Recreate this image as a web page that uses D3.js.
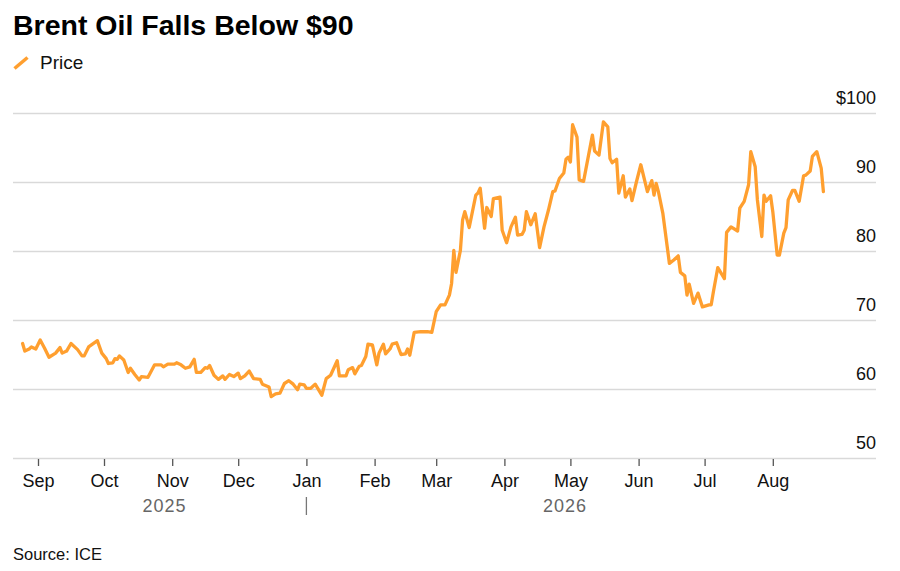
<!DOCTYPE html>
<html>
<head>
<meta charset="utf-8">
<script src="https://cdn.jsdelivr.net/npm/d3@7"></script>
<style>
  html, body { margin: 0; padding: 0; background: #fff; }
  svg { display: block; font-family: "Liberation Sans", Arial, sans-serif; }
</style>
</head>
<body>
<svg id="chart" width="900" height="571"></svg>
<script>
// ---- Data ----
const title = "Brent Oil Falls Below $90";
const seriesName = "Price";
const source = "Source: ICE";

const dates = [
  "2025-08-25","2025-08-26","2025-08-28","2025-08-29","2025-08-31","2025-09-02","2025-09-04","2025-09-06","2025-09-09","2025-09-11",
  "2025-09-12","2025-09-14","2025-09-16","2025-09-19","2025-09-21","2025-09-22","2025-09-24","2025-09-28","2025-09-30","2025-10-02",
  "2025-10-03","2025-10-05","2025-10-06","2025-10-07","2025-10-08","2025-10-10","2025-10-12","2025-10-13","2025-10-15","2025-10-17",
  "2025-10-18","2025-10-21","2025-10-24","2025-10-27","2025-10-28","2025-10-30","2025-11-02","2025-11-03","2025-11-05","2025-11-07",
  "2025-11-09","2025-11-11","2025-11-12","2025-11-14","2025-11-16","2025-11-17","2025-11-18","2025-11-20","2025-11-22","2025-11-24",
  "2025-11-25","2025-11-27","2025-11-29","2025-12-01","2025-12-02","2025-12-04","2025-12-06","2025-12-08","2025-12-11","2025-12-12",
  "2025-12-15","2025-12-16","2025-12-18","2025-12-20","2025-12-22","2025-12-24","2025-12-26","2025-12-28","2025-12-29","2025-12-31",
  "2026-01-01","2026-01-03","2026-01-05","2026-01-08","2026-01-10","2026-01-12","2026-01-15","2026-01-16","2026-01-19","2026-01-20",
  "2026-01-22","2026-01-23","2026-01-25","2026-01-26","2026-01-28","2026-01-29","2026-01-31","2026-02-02","2026-02-03","2026-02-05",
  "2026-02-06","2026-02-08","2026-02-09","2026-02-11","2026-02-13","2026-02-15","2026-02-16","2026-02-17","2026-02-19","2026-02-22",
  "2026-02-25","2026-02-27","2026-03-01","2026-03-03","2026-03-05","2026-03-07","2026-03-08","2026-03-09","2026-03-10","2026-03-12",
  "2026-03-13","2026-03-14","2026-03-16","2026-03-19","2026-03-20","2026-03-21","2026-03-23","2026-03-24","2026-03-26","2026-03-27",
  "2026-03-30","2026-03-31","2026-04-02","2026-04-04","2026-04-06","2026-04-07","2026-04-09","2026-04-10","2026-04-11","2026-04-13",
  "2026-04-15","2026-04-17","2026-04-19","2026-04-21","2026-04-23","2026-04-24","2026-04-26","2026-04-28","2026-04-29","2026-04-30",
  "2026-05-01","2026-05-02","2026-05-04","2026-05-05","2026-05-07","2026-05-08","2026-05-11","2026-05-12","2026-05-14","2026-05-16",
  "2026-05-18","2026-05-19","2026-05-20","2026-05-22","2026-05-23","2026-05-25","2026-05-26","2026-05-28","2026-05-29","2026-05-31",
  "2026-06-02","2026-06-05","2026-06-07","2026-06-08","2026-06-09","2026-06-10","2026-06-12","2026-06-15","2026-06-17","2026-06-19",
  "2026-06-20","2026-06-22","2026-06-23","2026-06-24","2026-06-26","2026-06-28","2026-06-30","2026-07-03","2026-07-04","2026-07-05",
  "2026-07-07","2026-07-10","2026-07-11","2026-07-13","2026-07-16","2026-07-17","2026-07-19","2026-07-21","2026-07-22","2026-07-24",
  "2026-07-25","2026-07-27","2026-07-28","2026-07-29","2026-07-31","2026-08-01","2026-08-03","2026-08-04","2026-08-06","2026-08-07",
  "2026-08-08","2026-08-10","2026-08-11","2026-08-13","2026-08-15","2026-08-16","2026-08-18","2026-08-19","2026-08-21","2026-08-23",
  "2026-08-24"
];

const prices = [
  66.6,65.5,65.8,66.1,65.8,67.1,65.9,64.6,65.2,66.0,
  65.2,65.5,66.6,65.7,64.8,64.8,66.1,67.0,65.2,64.4,
  63.7,63.8,64.4,64.3,64.8,64.2,62.4,63.0,62.1,61.3,
  61.8,61.7,63.5,63.5,63.2,63.6,63.6,63.8,63.5,63.0,
  63.2,64.3,62.4,62.4,63.1,63.0,63.4,62.0,61.4,61.9,
  61.4,62.1,61.8,62.3,61.5,61.9,62.6,61.5,61.4,60.7,
  60.3,58.9,59.3,59.4,60.8,61.2,60.7,59.9,60.7,60.6,
  60.1,60.1,60.7,59.1,61.5,62.0,64.1,61.9,61.9,62.8,
  63.1,62.2,63.3,63.4,64.7,66.5,66.4,63.5,65.2,66.5,
  65.1,65.8,66.5,66.7,65.0,65.1,65.8,64.9,68.2,68.3,
  68.3,68.2,71.2,72.2,72.2,73.6,75.3,80.1,76.9,80.1,
  84.5,85.7,83.4,88.1,88.4,89.1,83.3,86.3,85.0,87.6,
  87.8,83.0,81.2,83.5,84.9,82.3,82.4,83.0,85.7,83.8,
  85.4,80.5,83.5,85.9,88.6,88.7,90.5,91.3,93.3,93.6,
  92.9,98.3,96.5,90.3,90.1,91.8,96.8,94.5,93.9,98.7,
  98.0,93.4,92.8,93.3,88.4,90.9,87.8,89.0,87.3,90.0,
  92.5,88.6,90.2,88.1,89.8,88.6,85.5,78.2,78.7,79.3,
  76.9,76.4,73.6,75.2,72.4,73.9,71.9,72.2,72.2,74.1,
  77.6,76.0,82.7,83.5,82.9,86.2,87.2,89.6,94.4,92.2,
  87.4,82.1,88.1,87.2,88.0,85.7,79.4,79.4,82.6,83.4,
  87.4,88.8,88.8,87.2,90.9,91.0,91.6,93.7,94.4,92.0,
  88.6
];

const yTicks = [50, 60, 70, 80, 90, 100];
const monthTicks = ["2025-09-01","2025-10-01","2025-11-01","2025-12-01","2026-01-01","2026-02-01",
                    "2026-03-01","2026-04-01","2026-05-01","2026-06-01","2026-07-01","2026-08-01"];
const years = [
  { label: "2025", from: "2025-08-25", to: "2026-01-01" },
  { label: "2026", from: "2026-01-01", to: "2026-08-24" }
];

// ---- Drawing ----
const parse = d3.utcParse("%Y-%m-%d");
const data = dates.map((d, i) => ({ date: parse(d), value: prices[i] }));

const svg = d3.select("#chart");
const gridLeft = 13, gridRight = 876;

const x = d3.scaleUtc()
  .domain([parse("2025-09-01"), parse("2026-08-01")])
  .range([38, 772.8]);
const y = d3.scaleLinear().domain([50, 100]).range([458, 113]);

// Title
svg.append("text")
  .attr("x", 13).attr("y", 35)
  .attr("font-size", 28.5).attr("font-weight", "bold")
  .attr("fill", "#000")
  .text(title);

// Legend
svg.append("line")
  .attr("x1", 14.5).attr("y1", 68.5).attr("x2", 27.5).attr("y2", 57.5)
  .attr("stroke", "#ff9f2f").attr("stroke-width", 3.5).attr("stroke-linecap", "butt");
svg.append("text")
  .attr("x", 40).attr("y", 68.5)
  .attr("font-size", 19).attr("fill", "#111")
  .text(seriesName);

// Y gridlines + labels
const yAxis = d3.axisLeft(y)
  .tickValues(yTicks)
  .tickSize(gridRight - gridLeft)
  .tickFormat(d => d === 100 ? "$" + d : String(d));
const gy = svg.append("g")
  .attr("transform", `translate(${gridRight},0)`)
  .call(yAxis);
gy.select(".domain").remove();
gy.selectAll(".tick line")
  .attr("stroke", "#d9d9d9").attr("stroke-width", 1.5);
gy.selectAll(".tick text")
  .attr("x", 0).attr("y", -10).attr("dy", 0)
  .attr("text-anchor", "end")
  .attr("font-size", 18).attr("fill", "#111")
  .style("font-family", '"Liberation Sans", Arial, sans-serif');

// X axis
const xAxis = d3.axisBottom(x)
  .tickValues(monthTicks.map(parse))
  .tickSize(7).tickSizeOuter(0).tickPadding(8)
  .tickFormat(d3.utcFormat("%b"));
const gx = svg.append("g")
  .attr("transform", "translate(0,459)")
  .call(xAxis);
gx.select(".domain").remove();
gx.selectAll(".tick line").attr("stroke", "#555").attr("stroke-width", 1.3);
gx.selectAll(".tick text")
  .attr("font-size", 18).attr("fill", "#111")
  .style("font-family", '"Liberation Sans", Arial, sans-serif');

// Year labels
years.forEach(yr => {
  const cx = (x(parse(yr.from)) + x(parse(yr.to))) / 2;
  svg.append("text")
    .attr("x", cx).attr("y", 511.5)
    .attr("text-anchor", "middle")
    .attr("font-size", 18).attr("letter-spacing", 1)
    .attr("fill", "#666")
    .text(yr.label);
});
// Year separator
svg.append("line")
  .attr("x1", x(parse("2026-01-01"))).attr("x2", x(parse("2026-01-01")))
  .attr("y1", 497).attr("y2", 515)
  .attr("stroke", "#777").attr("stroke-width", 1.3);

// Price line
const line = d3.line()
  .x(d => x(d.date))
  .y(d => y(d.value))
  .curve(d3.curveLinear);
svg.append("path")
  .datum(data)
  .attr("fill", "none")
  .attr("stroke", "#ff9f2f")
  .attr("stroke-width", 3.3)
  .attr("stroke-linejoin", "round")
  .attr("stroke-linecap", "round")
  .attr("d", line);

// Source
svg.append("text")
  .attr("x", 13).attr("y", 560)
  .attr("font-size", 16.5).attr("fill", "#111")
  .text(source);
</script>
</body>
</html>
